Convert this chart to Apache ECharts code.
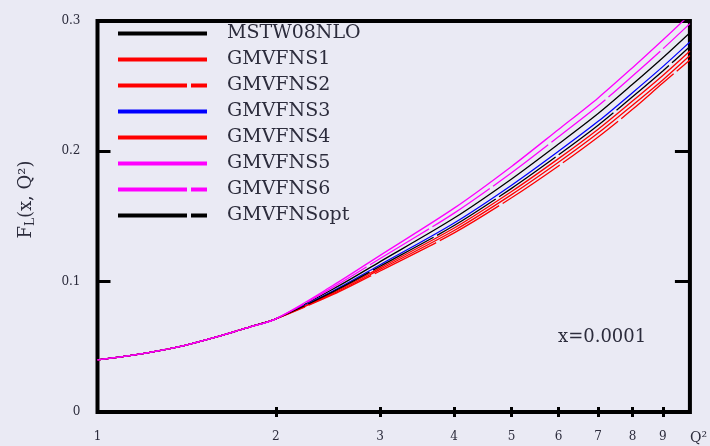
<!DOCTYPE html>
<html>
<head>
<meta charset="utf-8">
<script src="https://cdn.jsdelivr.net/npm/echarts@6/dist/echarts.min.js"></script>
<style>
  html, body { margin: 0; padding: 0; background: #eaeaf4; }
  #chart { width: 710px; height: 446px; }
</style>
</head>
<body>
<div id="chart"></div>
<script>
// Q^2 nodes below the charm threshold, where every scheme gives the same curve
const q2Low = [1, 1.2, 1.4, 1.6, 1.8];
const fLow = [0.040, 0.045, 0.051, 0.058, 0.0650];

// Q^2 nodes from the threshold upward, where the schemes separate
const q2High = [2, 2.5, 3, 4, 5, 6, 7, 8, 9, 10];

const mstw08nlo = [0.0715, 0.0944, 0.1154, 0.1488, 0.1788, 0.2056, 0.2290, 0.2514, 0.2718, 0.2910];
const gmvfns1   = [0.0715, 0.0909, 0.1094, 0.1393, 0.1668, 0.1916, 0.2140, 0.2354, 0.2548, 0.2735];
const gmvfns2   = [0.0715, 0.0902, 0.1082, 0.1374, 0.1644, 0.1888, 0.2110, 0.2322, 0.2524, 0.2700];
const gmvfns3   = [0.0715, 0.0930, 0.1130, 0.1450, 0.1740, 0.2000, 0.2230, 0.2450, 0.2650, 0.2840];
const gmvfns4   = [0.0715, 0.0916, 0.1106, 0.1412, 0.1692, 0.1944, 0.2170, 0.2386, 0.2582, 0.2770];
const gmvfns5   = [0.0715, 0.0972, 0.1202, 0.1564, 0.1884, 0.2168, 0.2410, 0.2642, 0.2854, 0.3050];
const gmvfns6   = [0.0715, 0.0958, 0.1178, 0.1526, 0.1836, 0.2112, 0.2350, 0.2578, 0.2786, 0.2980];
const gmvfnsOpt = [0.0715, 0.0923, 0.1118, 0.1431, 0.1716, 0.1972, 0.2200, 0.2418, 0.2616, 0.2805];

// Axis tick values
const xTickValues = [2, 3, 4, 5, 6, 7, 8, 9];
const xLabelValues = [1, 2, 3, 4, 5, 6, 7, 8, 9];

const FONT = 'DejaVu Serif';
const TEXT = '#2c2c3c';
const LONG_DASH = [69, 4];

function curve(high) {
  const q = q2Low.concat(q2High);
  const f = fLow.concat(high);
  return q.map((v, i) => [v, f[i]]);
}

const seriesDefs = [
  { name: 'MSTW08NLO', data: mstw08nlo, color: '#000000', type: 'solid', z: 2 },
  { name: 'GMVFNS1',   data: gmvfns1,   color: '#ff0000', type: 'solid', z: 3 },
  { name: 'GMVFNS2',   data: gmvfns2,   color: '#ff0000', type: LONG_DASH, z: 4 },
  { name: 'GMVFNS3',   data: gmvfns3,   color: '#0000ff', type: 'solid', z: 5 },
  { name: 'GMVFNS4',   data: gmvfns4,   color: '#ff0000', type: 'solid', z: 6 },
  { name: 'GMVFNS5',   data: gmvfns5,   color: '#ff00ff', type: 'solid', z: 9 },
  { name: 'GMVFNS6',   data: gmvfns6,   color: '#ff00ff', type: LONG_DASH, z: 8 },
  { name: 'GMVFNSopt', data: gmvfnsOpt, color: '#000000', type: LONG_DASH, z: 7 }
];

const chart = echarts.init(document.getElementById('chart'), null, { renderer: 'canvas' });

const logX = {
  type: 'log',
  min: 1,
  max: 10,
  logBase: 10,
  splitLine: { show: false },
  axisLine: { show: false }
};

chart.setOption({
  animation: false,
  backgroundColor: '#eaeaf4',
  grid: {
    left: 97.5,
    right: 15.5,
    top: 21,
    bottom: 34,
    show: true,
    borderColor: '#000',
    borderWidth: 4,
    backgroundColor: 'transparent'
  },
  legend: {
    orient: 'vertical',
    left: 116,
    top: 24,
    padding: 0,
    itemWidth: 89,
    itemHeight: 4,
    itemGap: 7,
    selectedMode: false,
    lineStyle: { width: 4, cap: 'butt' },
    textStyle: {
      fontFamily: FONT,
      fontSize: 19,
      color: TEXT,
      padding: [0, 0, 0, 15]
    },
    data: seriesDefs.map(s => s.name)
  },
  xAxis: [
    Object.assign({}, logX, {
      position: 'bottom',
      name: 'Q²',
      nameLocation: 'end',
      nameGap: 0,
      nameTextStyle: {
        fontFamily: FONT, fontSize: 14, color: TEXT,
        align: 'left', verticalAlign: 'top', padding: [19, 0, 0, 0]
      },
      axisTick: {
        show: true, inside: true, length: 5,
        customValues: xTickValues,
        lineStyle: { color: '#000', width: 3 }
      },
      axisLabel: {
        show: true, margin: 19,
        customValues: xLabelValues,
        fontFamily: FONT, fontSize: 12, color: TEXT,
        formatter: v => String(Math.round(v))
      }
    }),
    Object.assign({}, logX, {
      position: 'top',
      axisTick: {
        show: true, inside: true, length: 5,
        customValues: xTickValues,
        lineStyle: { color: '#000', width: 3 }
      },
      axisLabel: { show: false }
    })
  ],
  yAxis: [
    {
      type: 'value',
      position: 'left',
      min: 0,
      max: 0.3,
      interval: 0.1,
      splitLine: { show: false },
      axisLine: { show: false },
      axisTick: {
        show: true, inside: true, length: 13,
        lineStyle: { color: '#000', width: 3 }
      },
      axisLabel: {
        margin: 17,
        fontFamily: FONT, fontSize: 12, color: TEXT,
        formatter: v => (v === 0 ? '0' : v.toFixed(1))
      },
      name: '{m|F}{s|L}{m|(x, Q²)}',
      nameLocation: 'middle',
      nameRotate: 90,
      nameGap: 61,
      nameTextStyle: {
        padding: [0, 0, 0, 34],
        rich: {
          m: { fontFamily: FONT, fontSize: 18, color: TEXT },
          s: { fontFamily: FONT, fontSize: 12, color: TEXT, verticalAlign: 'bottom', padding: [8, 0, 0, 0] }
        }
      }
    },
    {
      type: 'value',
      position: 'right',
      min: 0,
      max: 0.3,
      interval: 0.1,
      splitLine: { show: false },
      axisLine: { show: false },
      axisTick: {
        show: true, inside: true, length: 15,
        lineStyle: { color: '#000', width: 3 }
      },
      axisLabel: { show: false }
    }
  ],
  graphic: [
    {
      type: 'text',
      left: 558,
      top: 328,
      style: {
        text: 'x=0.0001',
        font: '18px "DejaVu Serif"',
        fill: TEXT
      }
    }
  ],
  series: seriesDefs.map(s => ({
    name: s.name,
    type: 'line',
    xAxisIndex: 0,
    yAxisIndex: 0,
    data: curve(s.data),
    smooth: 0.3,
    symbol: 'none',
    z: s.z,
    clip: true,
    color: s.color,
    lineStyle: { color: s.color, width: 1.3, type: s.type },
    itemStyle: { color: s.color }
  }))
});
</script>
</body>
</html>
